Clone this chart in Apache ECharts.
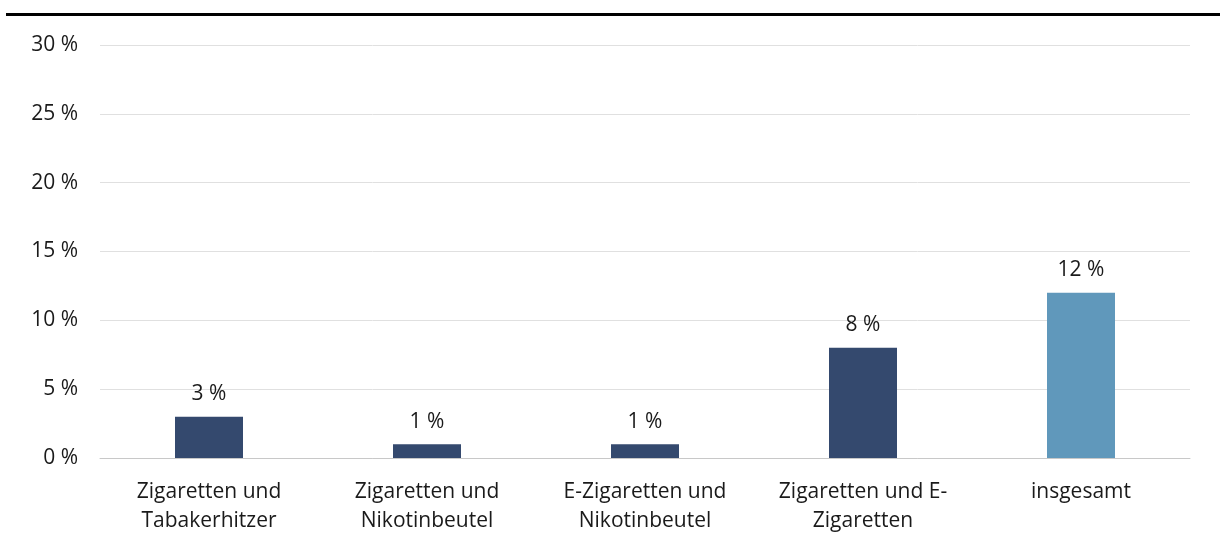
<!DOCTYPE html>
<html>
<head>
<meta charset="utf-8">
<script src="https://cdn.jsdelivr.net/npm/echarts@6/dist/echarts.min.js"></script>
<style>
    html, body { margin: 0; padding: 0; background: #fff; overflow: hidden; }
    #chart { width: 1220px; height: 534px; }
</style>
</head>
<body>
<div id="chart"></div>
<script>
    // Kategorien und Werte (Anteil in %)
    var categories = [
        'Zigaretten und\nTabakerhitzer',
        'Zigaretten und\nNikotinbeutel',
        'E-Zigaretten und\nNikotinbeutel',
        'Zigaretten und E-\nZigaretten',
        'insgesamt'
    ];
    var values = [3, 1, 1, 8, 12];
    var barColors = ['#34496e', '#34496e', '#34496e', '#34496e', '#6098bb'];
    var yTicks = [0, 5, 10, 15, 20, 25, 30];

    var myChart = echarts.init(document.getElementById('chart'));
    var fontFamily = '"Open Sans", "Noto Sans", sans-serif';

    var option = {
        animation: false,
        textStyle: {fontFamily: fontFamily},
        graphic: [
            {
                type: 'rect',
                shape: {x: 6, y: 13, width: 1214, height: 3},
                style: {fill: '#000'}
            }
        ],
        grid: {
            left: 100,
            right: 30,
            top: 45,
            bottom: 76,
            containLabel: false,
            outerBoundsMode: 'none'
        },
        xAxis: {
            type: 'category',
            data: categories,
            axisTick: {show: false},
            axisLine: {lineStyle: {color: '#c8c8c8', width: 1}},
            axisLabel: {
                color: '#1a1a1a',
                fontSize: 21,
                fontFamily: fontFamily,
                lineHeight: 29,
                margin: 20,
                interval: 0
            }
        },
        yAxis: {
            type: 'value',
            min: yTicks[0],
            max: yTicks[yTicks.length - 1],
            interval: 5,
            axisLine: {show: false},
            axisTick: {show: false},
            splitLine: {lineStyle: {color: '#e0e0e0', width: 1}},
            axisLabel: {
                color: '#1a1a1a',
                fontSize: 21,
                fontFamily: fontFamily,
                margin: 22,
                formatter: function (v) { return v + ' %' }
            }
        },
        series: [
            {
                type: 'bar',
                barWidth: 68,
                data: values.map(function (v, i) {
                    return {value: v, itemStyle: {color: barColors[i]}}
                }),
                label: {
                    show: true,
                    position: 'top',
                    distance: 12,
                    color: '#1a1a1a',
                    fontSize: 21,
                    fontFamily: fontFamily,
                    formatter: function (p) { return p.value + ' %' }
                }
            }
        ]
    };
    option && myChart.setOption(option);
</script>
</body>
</html>
